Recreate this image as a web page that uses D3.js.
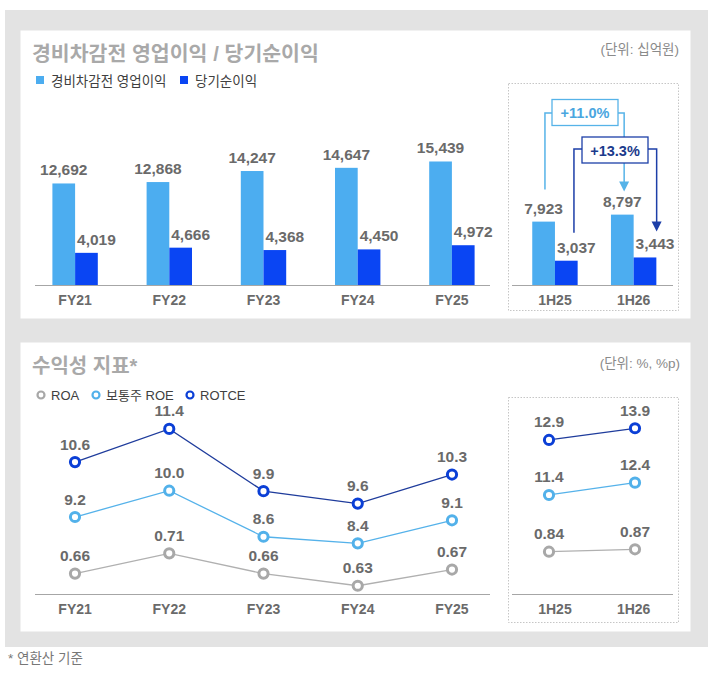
<!DOCTYPE html>
<html>
<head>
<meta charset="utf-8">
<script src="https://cdn.jsdelivr.net/npm/d3@7"></script>
<style>
  body { margin: 0; background: #fff; }
  svg { display: block; font-family: "Liberation Sans", "Noto Sans CJK KR", sans-serif; }
</style>
</head>
<body>
<div id="chart"></div>
<script>
// Data
const categories = ["FY21", "FY22", "FY23", "FY24", "FY25"];
const halfCategories = ["1H25", "1H26"];
const opIncome = [12692, 12868, 14247, 14647, 15439];
const netIncome = [4019, 4666, 4368, 4450, 4972];
const opIncomeH = [7923, 8797];
const netIncomeH = [3037, 3443];
const growthLabels = ["+11.0%", "+13.3%"];
const roa = [0.66, 0.71, 0.66, 0.63, 0.67];
const roe = [9.2, 10.0, 8.6, 8.4, 9.1];
const rotce = [10.6, 11.4, 9.9, 9.6, 10.3];
const roaH = [0.84, 0.87];
const roeH = [11.4, 12.4];
const rotceH = [12.9, 13.9];

(function() {
    const W = 720, H = 673;
    const lightBlue = "#4cadf0", deepBlue = "#0a45f3";
    const labelGray = "#6a6a6a";

    const svg = d3.select("#chart").append("svg")
        .attr("width", W).attr("height", H);

    // Gray frame and two white panels
    svg.append("rect").attr("x", 5).attr("y", 10).attr("width", 703).attr("height", 637).attr("fill", "#e3e3e3");
    svg.append("rect").attr("x", 20.5).attr("y", 30.5).attr("width", 670).attr("height", 288).attr("fill", "#fff");
    svg.append("rect").attr("x", 20.5).attr("y", 342.5).attr("width", 670).attr("height", 289).attr("fill", "#fff");

    svg.append("text").attr("x", 8).attr("y", 663)
        .style("font-size", "13.5px").attr("fill", "#777")
        .text("* 연환산 기준");

    // ---------- Top panel: bars ----------
    svg.append("text").attr("x", 32).attr("y", 61)
        .style("font-size", "20.5px").style("font-weight", "bold").attr("fill", "#a9a9a9")
        .text("경비차감전 영업이익 / 당기순이익");
    svg.append("text").attr("x", 679).attr("y", 54).attr("text-anchor", "end")
        .style("font-size", "13.5px").attr("fill", "#8a8a8a")
        .text("(단위: 십억원)");

    const barLegend = [
        { name: "경비차감전 영업이익", color: lightBlue, x: 36 },
        { name: "당기순이익", color: deepBlue, x: 180 }
    ];
    const lg = svg.append("g").selectAll("g").data(barLegend).enter().append("g");
    lg.append("rect").attr("x", d => d.x).attr("y", 76).attr("width", 8).attr("height", 8).attr("fill", d => d.color);
    lg.append("text").attr("x", d => d.x + 15).attr("y", 85.5)
        .style("font-size", "13.5px").attr("fill", "#404040").text(d => d.name);

    const x = d3.scaleBand().domain(categories).range([28, 499]);
    const xH = d3.scaleBand().domain(halfCategories).range([515.6, 673]);
    const y = d3.scaleLinear().domain([0, 25000]).range([285, 85]);
    const bw = 22.7;

    function drawBars(g, xs, cats, a, b) {
        cats.forEach((c, i) => {
            const cx = xs(c) + xs.bandwidth() / 2;
            g.append("rect").attr("x", cx - bw).attr("y", y(a[i])).attr("width", bw)
                .attr("height", y(0) - y(a[i])).attr("fill", lightBlue);
            g.append("rect").attr("x", cx).attr("y", y(b[i])).attr("width", bw)
                .attr("height", y(0) - y(b[i])).attr("fill", deepBlue);
            g.append("text").attr("x", cx - bw / 2).attr("y", y(a[i]) - 8).attr("text-anchor", "middle")
                .style("font-size", "15.5px").style("font-weight", "bold").attr("fill", labelGray)
                .text(d3.format(",")(a[i]));
            g.append("text").attr("x", cx + bw / 2 + 10).attr("y", y(b[i]) - 8).attr("text-anchor", "middle")
                .style("font-size", "15.5px").style("font-weight", "bold").attr("fill", labelGray)
                .text(d3.format(",")(b[i]));
        });
    }

    function drawAxis(g, xs, cats, x0, x1, baseY) {
        g.append("line").attr("x1", x0).attr("x2", x1).attr("y1", baseY + 0.5).attr("y2", baseY + 0.5)
            .attr("stroke", "#a6a6a6").attr("stroke-width", 1);
        g.selectAll("text.cat").data(cats).enter().append("text")
            .attr("x", d => xs(d) + xs.bandwidth() / 2).attr("y", baseY + 20)
            .attr("text-anchor", "middle")
            .style("font-size", "14px").style("font-weight", "bold").attr("fill", "#6a6a6a")
            .text(d => d);
    }

    const top = svg.append("g");
    drawBars(top, x, categories, opIncome, netIncome);
    drawAxis(top, x, categories, 35, 490, 285);

    // half-year sub panel
    top.append("rect").attr("x", 508.5).attr("y", 83.5).attr("width", 170).attr("height", 227)
        .attr("fill", "none").attr("stroke", "#b8b8b8").attr("stroke-width", 0.8).attr("stroke-dasharray", "1.5,1.5");
    drawBars(top, xH, halfCategories, opIncomeH, netIncomeH);
    drawAxis(top, xH, halfCategories, 512, 673, 285);

    // growth annotations
    const c0 = xH(halfCategories[0]) + xH.bandwidth() / 2;
    const c1 = xH(halfCategories[1]) + xH.bandwidth() / 2;
    const arrows = [
        { label: growthLabels[0], color: "#56b3e8", text: "#4aa6df",
          x0: c0 - 10, y0: y(opIncomeH[0]) - 32, x1: c1 - 9.5, y1: y(opIncomeH[1]) - 23,
          bx: 552, by: 99.5, lineY: 113 },
        { label: growthLabels[1], color: "#1d3fa8", text: "#1b3a8c",
          x0: c0 + 19, y0: y(netIncomeH[0]) - 28, x1: c1 + 23, y1: y(netIncomeH[1]) - 26,
          bx: 582, by: 137, lineY: 149 }
    ];
    const bwBox = 66, bhBox = 26;
    arrows.forEach(a => {
        top.append("path")
            .attr("d", `M${a.x0},${a.y0} V${a.lineY} H${a.bx}`)
            .attr("fill", "none").attr("stroke", a.color).attr("stroke-width", 1.5);
        top.append("path")
            .attr("d", `M${a.bx + bwBox},${a.lineY} H${a.x1} V${a.y1 - 9}`)
            .attr("fill", "none").attr("stroke", a.color).attr("stroke-width", 1.5);
        top.append("path")
            .attr("d", `M${a.x1 - 5},${a.y1 - 10} L${a.x1 + 5},${a.y1 - 10} L${a.x1},${a.y1} Z`)
            .attr("fill", a.color);
        top.append("rect").attr("x", a.bx).attr("y", a.by).attr("width", bwBox).attr("height", bhBox)
            .attr("fill", "#fff").attr("stroke", a.color).attr("stroke-width", 1.3);
        top.append("text").attr("x", a.bx + bwBox / 2).attr("y", a.by + 18.5).attr("text-anchor", "middle")
            .style("font-size", "14.5px").style("font-weight", "bold").attr("fill", a.text)
            .text(a.label);
    });

    // ---------- Bottom panel: lines ----------
    svg.append("text").attr("x", 32).attr("y", 373)
        .style("font-size", "20px").style("font-weight", "bold").attr("fill", "#a9a9a9")
        .text("수익성 지표*");
    svg.append("text").attr("x", 680).attr("y", 368).attr("text-anchor", "end")
        .style("font-size", "13.5px").attr("fill", "#8a8a8a")
        .text("(단위: %, %p)");

    const roaColor = "#a8a8a8", roeColor = "#52b1ea", rotceColor = "#0b3fd6";
    const lineLegend = [
        { name: "ROA", color: roaColor, x: 41 },
        { name: "보통주 ROE", color: roeColor, x: 96 },
        { name: "ROTCE", color: rotceColor, x: 190 }
    ];
    const ll = svg.append("g").selectAll("g").data(lineLegend).enter().append("g");
    ll.append("circle").attr("cx", d => d.x).attr("cy", 395).attr("r", 3.5)
        .attr("fill", "#fff").attr("stroke", d => d.color).attr("stroke-width", 2.2);
    ll.append("text").attr("x", d => d.x + 10).attr("y", 399.5)
        .style("font-size", "13px").attr("fill", "#404040").text(d => d.name);

    const bottom = svg.append("g");
    drawAxis(bottom, x, categories, 35, 490, 594);
    bottom.append("rect").attr("x", 508.5).attr("y", 397.5).attr("width", 170).attr("height", 225)
        .attr("fill", "none").attr("stroke", "#b8b8b8").attr("stroke-width", 0.8).attr("stroke-dasharray", "1.5,1.5");
    drawAxis(bottom, xH, halfCategories, 512, 673, 594);

    const xL = d3.scalePoint().domain(categories).range([75, 452]);
    const xHL = d3.scalePoint().domain(halfCategories).range([549, 635]);

    const series = [
        { vals: roa, valsH: roaH, color: roaColor, lineColor: "#b0b0b0", fmt: ".2f",
          ys: d3.scaleLinear().domain([0.6, 0.8]).range([597.9, 516.9]),
          ysH: d3.scaleLinear().domain([0.8, 0.9]).range([554.9, 546.9]) },
        { vals: roe, valsH: roeH, color: roeColor, lineColor: "#55b2ea", fmt: ".1f",
          ys: d3.scaleLinear().domain([8, 11]).range([556.5, 457.8]),
          ysH: d3.scaleLinear().domain([11, 13]).range([499.9, 475.3]) },
        { vals: rotce, valsH: rotceH, color: rotceColor, lineColor: "#1f3c9c", fmt: ".1f",
          ys: d3.scaleLinear().domain([9, 12]).range([528.5, 404]),
          ysH: d3.scaleLinear().domain([12, 15]).range([450.5, 415.4]) }
    ];

    function drawSeries(g, xs, cats, vals, ys, s) {
        const pts = cats.map((c, i) => [xs(c), ys(vals[i])]);
        g.append("path").attr("d", d3.line()(pts))
            .attr("fill", "none").attr("stroke", s.lineColor).attr("stroke-width", 1.3);
        g.selectAll(null).data(pts).enter().append("circle")
            .attr("cx", d => d[0]).attr("cy", d => d[1]).attr("r", 4.6)
            .attr("fill", "#fff").attr("stroke", s.color).attr("stroke-width", 3);
        g.selectAll(null).data(pts).enter().append("text")
            .attr("x", d => d[0]).attr("y", d => d[1] - 12.5).attr("text-anchor", "middle")
            .style("font-size", "15.5px").style("font-weight", "bold").attr("fill", labelGray)
            .text((d, i) => d3.format(s.fmt)(vals[i]));
    }

    series.forEach(s => {
        drawSeries(bottom, xL, categories, s.vals, s.ys, s);
        drawSeries(bottom, xHL, halfCategories, s.valsH, s.ysH, s);
    });
})();
</script>
</body>
</html>
